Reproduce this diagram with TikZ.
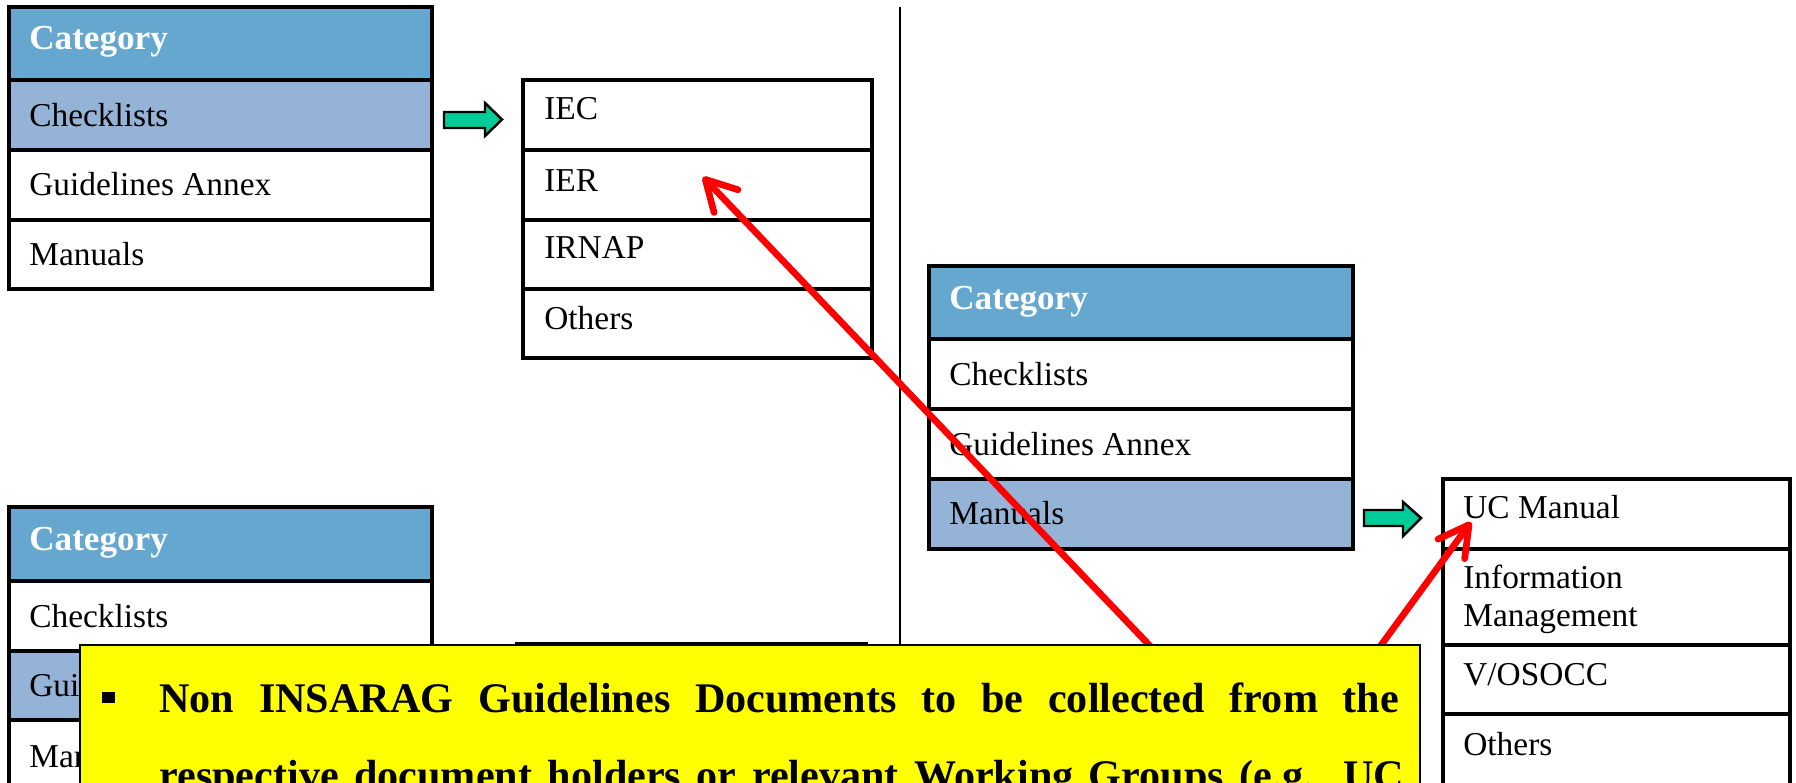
\documentclass[tikz,border=0pt]{standalone}
\usepackage{fontspec}
\setmainfont{Liberation Serif}
\usetikzlibrary{arrows.meta,fit}
\definecolor{hdr}{RGB}{102,167,208}
\definecolor{hil}{RGB}{149,179,215}
\definecolor{grn}{RGB}{0,204,153}
\definecolor{noteyellow}{RGB}{255,255,0}
\begin{document}
\begin{tikzpicture}[x=0.02cm,y=-0.02cm,
 cell/.style={draw=black,line width=2pt,inner sep=0pt,outer sep=0pt,fill=white},
 hdrcell/.style={cell,fill=hdr},
 hilcell/.style={cell,fill=hil},
 txt/.style={anchor=base west,inner sep=0pt,font=\fontsize{19}{22}\selectfont},
 hdrtxt/.style={anchor=base west,inner sep=0pt,text=white,font=\fontsize{20}{24}\selectfont\bfseries},
 blockarrow/.style={draw=black,line width=1.4pt,fill=grn,line join=miter},
 redarrow/.style={draw=red,line width=3.8pt,-{Straight Barb[length=0.6cm,width=0.66cm,round]}},
 notebox/.style={draw=black,line width=1pt,fill=noteyellow,inner sep=0pt,outer sep=0pt},
 notetxt/.style={anchor=base west,inner sep=0pt,font=\fontsize{24}{44}\selectfont\bfseries}]
\useasboundingbox (0,0) rectangle (1796,783);
\clip (0,0) rectangle (1796,783);

% divider
\coordinate (vt) at (900,7);
\coordinate (vb) at (900,800);
\draw[line width=1.1pt] (vt) -- (vb);

% left top table
\node[hdrcell,fit={(9,7)(432,80)}] (lt0) {};
\node[hilcell,fit={(9,80)(432,150)}] (lt1) {};
\node[cell,fit={(9,150)(432,220)}] (lt2) {};
\node[cell,fit={(9,220)(432,289)}] (lt3) {};
\node[hdrtxt] (lt0t) at (29,50) {Category};
\node[txt] (lt1t) at (29,127) {Checklists};
\node[txt] (lt2t) at (29,196) {Guidelines Annex};
\node[txt] (lt3t) at (29,266) {Manuals};

% middle top table
\node[cell,fit={(523,80)(872,150)}] (mt1) {};
\node[cell,fit={(523,150)(872,220)}] (mt2) {};
\node[cell,fit={(523,220)(872,289)}] (mt3) {};
\node[cell,fit={(523,289)(872,358)}] (mt4) {};
\node[txt] (mt1t) at (544,120) {IEC};
\node[txt] (mt2t) at (544,192) {IER};
\node[txt] (mt3t) at (544,259) {IRNAP};
\node[txt] (mt4t) at (544,330) {Others};

% green arrow 1
\draw[blockarrow] (444,112) -- (485,112) -- (485,103) -- (502,119.5) -- (485,136) -- (485,128) -- (444,128) -- cycle;

% right table
\node[hdrcell,fit={(929,266)(1353,339)}] (rt0) {};
\node[cell,fit={(929,339)(1353,409)}] (rt1) {};
\node[cell,fit={(929,409)(1353,479)}] (rt2) {};
\node[hilcell,fit={(929,479)(1353,549)}] (rt3) {};
\node[hdrtxt] (rt0t) at (949,310) {Category};
\node[txt] (rt1t) at (949,386) {Checklists};
\node[txt] (rt2t) at (949,456) {Guidelines Annex};
\node[txt] (rt3t) at (949,525) {Manuals};

% green arrow 2
\draw[blockarrow] (1364,510) -- (1403,510) -- (1403,502) -- (1421,518) -- (1403,536) -- (1403,526) -- (1364,526) -- cycle;

% far right table
\node[cell,fit={(1443,479)(1790,549)}] (fr1) {};
\node[cell,fit={(1443,549)(1790,645)}] (fr2) {};
\node[cell,fit={(1443,645)(1790,714)}] (fr3) {};
\node[cell,fit={(1443,714)(1790,820)}] (fr4) {};
\node[txt] (fr1t) at (1463,519) {UC Manual};
\node[txt] (fr2t) at (1463,589) {Information};
\node[txt] (fr2u) at (1463,627) {Management};
\node[txt] (fr3t) at (1463,685) {V/OSOCC};
\node[txt] (fr4t) at (1463,755) {Others};

% left bottom table
\node[hdrcell,fit={(9,507)(432,581)}] (lb0) {};
\node[cell,fit={(9,581)(432,651)}] (lb1) {};
\node[hilcell,fit={(9,651)(432,720)}] (lb2) {};
\node[cell,fit={(9,720)(432,820)}] (lb3) {};
\node[hdrtxt] (lb0t) at (29,551) {Category};
\node[txt] (lb1t) at (29,628) {Checklists};
\node[txt] (lb2t) at (29,697) {Guidelines Annex};
\node[txt] (lb3t) at (29,767) {Manuals};

% hidden middle bottom table
\node[cell,fit={(517,644)(866,820)}] (mb) {};

% red arrows
\coordinate (r1s) at (1152,648);
\coordinate (r1e) at (703,177);
\coordinate (r2s) at (1379,648);
\coordinate (r2e) at (1471,522);
\draw[redarrow] (r1s) -- (r1e);
\draw[redarrow] (r2s) -- (r2e);

% yellow note
\node[notebox,fit={(80,645)(1420,830)}] (note) {};
\node[inner sep=0pt] (bul) at (108.5,697.5) {\rule{0.26cm}{0.23cm}};
\node[notetxt] (l1) at (159,712) {\makebox[24.8cm][s]{Non INSARAG Guidelines Documents to be collected from the}};
\node[notetxt] (l2) at (159,789) {\makebox[24.9cm][s]{respective document holders or relevant Working Groups (e.g. UC}};
\end{tikzpicture}
\end{document}
